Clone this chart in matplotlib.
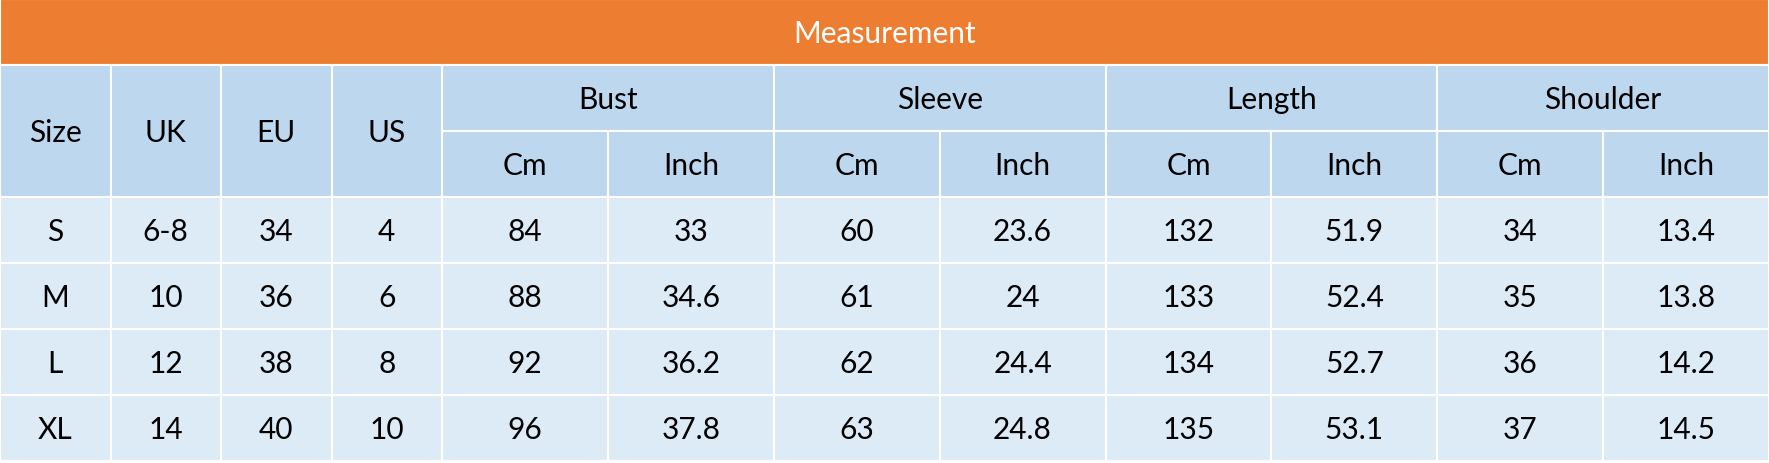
import numpy as np
import matplotlib
matplotlib.use('Agg')
import matplotlib.pyplot as plt
from matplotlib.patches import Rectangle

plt.rcParams['font.family'] = ['Lato', 'DejaVu Sans']

# table data
title = 'Measurement'
id_headers = ['Size', 'UK', 'EU', 'US']
groups = ['Bust', 'Sleeve', 'Length', 'Shoulder']
units = ['Cm', 'Inch']

sizes = ['S', 'M', 'L', 'XL']
uk = ['6-8', '10', '12', '14']
eu = [34, 36, 38, 40]
us = [4, 6, 8, 10]
bust_cm = [84, 88, 92, 96]
bust_in = [33, 34.6, 36.2, 37.8]
sleeve_cm = [60, 61, 62, 63]
sleeve_in = [23.6, 24, 24.4, 24.8]
length_cm = [132, 133, 134, 135]
length_in = [51.9, 52.4, 52.7, 53.1]
shoulder_cm = [34, 35, 36, 37]
shoulder_in = [13.4, 13.8, 14.2, 14.5]

# layout (pixels)
W, H = 1769, 464
id_w = 110.5
unit_w = (W - 4 * id_w) / 8
row_h = 66.0

orange = '#ED7D31'
head_blue = '#BDD7EE'
body_blue = '#DDEBF7'
line_w = 1.5
fs = 21.5

fig = plt.figure(figsize=(W / 100, H / 100), dpi=100)
ax = fig.add_axes([0, 0, 1, 1])
ax.set_xlim(0, W)
ax.set_ylim(H, 0)
ax.axis('off')


def cell(x, y, w, h, color, text, tcolor='black'):
    ax.add_patch(Rectangle((x, y), w, h, facecolor=color, edgecolor='white', lw=line_w))
    ax.text(x + w / 2, y + h / 2 + 1, text, ha='center', va='center', fontsize=fs, color=tcolor)


# title band
cell(0, 0, W, row_h, orange, title, 'white')

# header rows
x = 0
for h in id_headers:
    cell(x, row_h, id_w, 2 * row_h, head_blue, h)
    x += id_w
for g in groups:
    cell(x, row_h, 2 * unit_w, row_h, head_blue, g)
    for k, u in enumerate(units):
        cell(x + k * unit_w, 2 * row_h, unit_w, row_h, head_blue, u)
    x += 2 * unit_w

# body
columns = [sizes, uk, eu, us, bust_cm, bust_in, sleeve_cm, sleeve_in,
           length_cm, length_in, shoulder_cm, shoulder_in]
widths = [id_w] * 4 + [unit_w] * 8
for i in range(len(sizes)):
    y = (3 + i) * row_h
    x = 0
    for col, w in zip(columns, widths):
        v = col[i]
        txt = v if isinstance(v, str) else f'{v:g}'
        cell(x, y, w, row_h, body_blue, txt)
        x += w

fig.savefig('out.png', dpi=100, facecolor='white')
